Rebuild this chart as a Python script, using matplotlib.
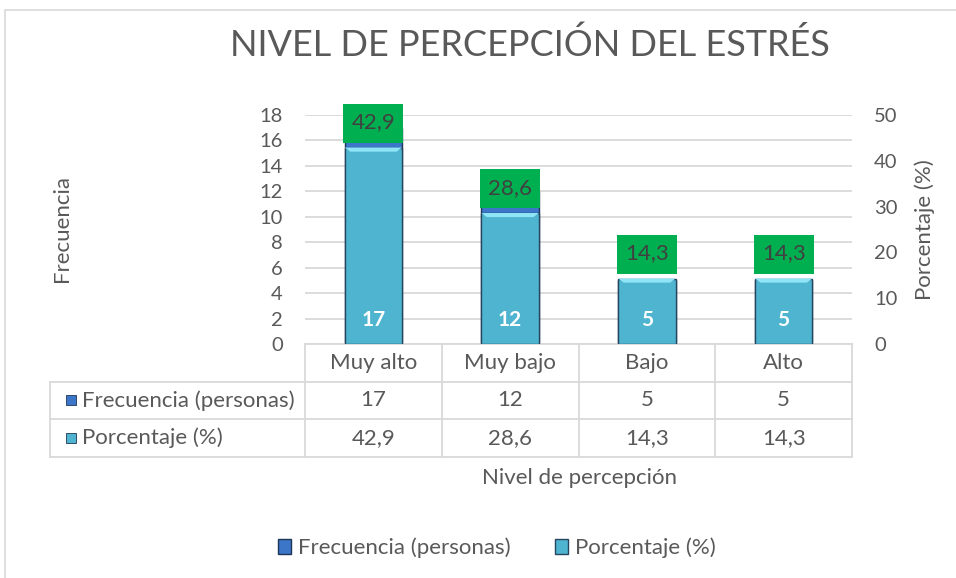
import numpy as np
import matplotlib
matplotlib.use('Agg')
import matplotlib.pyplot as plt
from matplotlib.patches import Rectangle, Polygon
from matplotlib.transforms import ScaledTranslation

categorias = ['Muy alto', 'Muy bajo', 'Bajo', 'Alto']
frecuencia = [17, 12, 5, 5]
porcentaje = [42.9, 28.6, 14.3, 14.3]
serie_frec = 'Frecuencia (personas)'
serie_pct = 'Porcentaje (%)'

plt.rcParams['font.family'] = ['Lato', 'DejaVu Sans']
gris = '#595959'
linea = '#d9d9d9'

W, H = 956, 578
def fx(px):
    return px / W
def fy(py):
    return 1 - py / H

fig = plt.figure(figsize=(9.56, 5.78), dpi=100)

# marco del grafico
fig.patches.append(Rectangle((fx(5), -0.02), 1.0, fy(10) + 0.02, transform=fig.transFigure,
                             fill=False, edgecolor=linea, lw=1.2))

ax = fig.add_axes([fx(305), fy(344), fx(852) - fx(305), fy(115) - fy(344)])
ax2 = ax.twinx()

x = np.arange(len(categorias))
w = 0.42
b1 = ax.bar(x, frecuencia, w, color='#3b76c8', edgecolor='#1d3557', linewidth=1,
            label=serie_frec, zorder=2)
b2 = ax2.bar(x, porcentaje, w, color='#4fb4cf', edgecolor='#26465f', linewidth=1,
             label=serie_pct, zorder=2)

# bisel superior de las barras claras
for r in b2:
    x0, h, bw = r.get_x(), r.get_height(), r.get_width()
    ax2.add_patch(Polygon([(x0, h), (x0 + bw, h), (x0 + bw - 0.04, h - 0.9), (x0 + 0.04, h - 0.9)],
                          closed=True, color='#8fe4f6', zorder=2.5, lw=0))

ax.set_xlim(-0.5, len(categorias) - 0.5)
ax.set_ylim(0, 18)
ax.set_yticks(range(0, 19, 2))
ax2.set_ylim(0, 50)
ax2.set_yticks(range(0, 51, 10))
ax.set_xticks([])
ax.yaxis.grid(True, color=linea, lw=1.3)
ax.set_axisbelow(True)
for a in (ax, ax2):
    for s in a.spines.values():
        s.set_visible(False)
ax.tick_params(axis='y', length=0, pad=16, labelsize=14.5, labelcolor=gris)
ax2.tick_params(axis='y', length=0, pad=16, labelsize=14.5, labelcolor=gris)

# etiquetas de datos
for xi, f in zip(x, frecuencia):
    ax2.annotate(str(f), (xi, 0), xytext=(0, 17), textcoords='offset points',
                 ha='center', va='center', fontsize=15, fontweight='bold', color='white', zorder=5)

caja = [(-30, -19.5), (30, -19.5), (30, 19.5), (-30, 19.5)]
desp = ax2.transData + ScaledTranslation(0, 25 / 100, fig.dpi_scale_trans)
for xi, p in zip(x, porcentaje):
    ax2.plot([xi], [p], marker=caja, ms=43.2, color='#00b050', mew=0, transform=desp,
             zorder=4, clip_on=False)
    ax2.annotate(f'{p:.1f}'.replace('.', ','), (xi, p), xytext=(0, 18), textcoords='offset points',
                 ha='center', va='center', fontsize=16, color='#404040', zorder=5,
                 annotation_clip=False)

# tabla de datos
tr = ax.transAxes
rows = [0, -37.5 / 229, -75 / 229, -112.5 / 229]
xl = (50 - 305) / 547
kw = dict(transform=tr, clip_on=False, color=linea, lw=1.3)
ax.plot([0, 1], [rows[0], rows[0]], **kw)
for yy in rows[1:]:
    ax.plot([xl, 1], [yy, yy], **kw)
for i in range(len(categorias) + 1):
    ax.plot([i / len(categorias)] * 2, [rows[0], rows[3]], **kw)
ax.plot([xl, xl], [rows[1], rows[3]], **kw)

ncat = len(categorias)
fs = 16
for i, c in enumerate(categorias):
    cx = (i + 0.5) / ncat
    ax.text(cx, (rows[0] + rows[1]) / 2, c, transform=tr, ha='center', va='center',
            fontsize=fs, color=gris)
    ax.text(cx, (rows[1] + rows[2]) / 2, str(frecuencia[i]), transform=tr, ha='center',
            va='center', fontsize=fs, color=gris)
    ax.text(cx, (rows[2] + rows[3]) / 2, f'{porcentaje[i]:.1f}'.replace('.', ','), transform=tr,
            ha='center', va='center', fontsize=fs, color=gris)

for k, (nombre, col) in enumerate([(serie_frec, '#3b76c8'), (serie_pct, '#4fb4cf')]):
    cy = (rows[k + 1] + rows[k + 2]) / 2
    ax.plot([(71 - 305) / 547], [cy], marker='s', ms=7, color=col, mec='#1d3557', mew=0.6,
            transform=tr, clip_on=False)
    ax.text((82 - 305) / 547, cy, nombre, transform=tr, ha='left', va='center',
            fontsize=fs, color=gris)

# textos
fig.text(fx(530), fy(45), 'NIVEL DE PERCEPCIÓN DEL ESTRÉS', ha='center', va='center',
         fontsize=26, color=gris)
fig.text(fx(62), fy(229), 'Frecuencia', rotation=90, ha='center', va='center',
         fontsize=fs, color=gris)
fig.text(fx(925), fy(230), 'Porcentaje (%)', rotation=90, ha='center', va='center',
         fontsize=fs, color=gris)
fig.text(fx(579), fy(478), 'Nivel de percepción', ha='center', va='center',
         fontsize=fs, color=gris)

fig.legend(handles=[b1, b2], loc='center', bbox_to_anchor=(fx(497), fy(548)), ncol=2,
           frameon=False, handlelength=0.6, handleheight=0.6, handletextpad=0.3,
           columnspacing=2.0, fontsize=fs, labelcolor=gris)

fig.savefig('out.png', dpi=100)
